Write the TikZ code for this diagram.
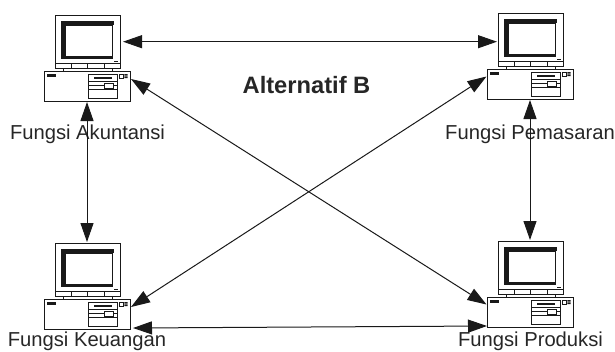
\documentclass[tikz,border=0pt]{standalone}
\usepackage{fontspec}
\setmainfont{Liberation Sans}
\usetikzlibrary{arrows.meta}
\tikzset{
  line/.style={draw=black!90,line width=0.9pt},
  thinl/.style={draw=black!90,line width=0.7pt},
  label text/.style={font=\fontsize{20.2}{22}\selectfont,text=black!85,anchor=base,inner sep=0pt},
  link/.style={draw=black!90,line width=1pt,{Triangle[length=19pt,width=13pt]}-{Triangle[length=19pt,width=13pt]}},
  computer/.pic={
    % monitor
    \node[line,rectangle,inner sep=0pt,minimum width=65pt,minimum height=53pt,anchor=north west] (-mon) at (11,0) {};
    \node[line,rectangle,inner sep=0pt,minimum width=86pt,minimum height=30pt,anchor=north west] (-case) at (0,56) {};
    \fill[black!90] (17,6) rectangle (70,43.5);
    \fill[white] (21.7,10.7) rectangle (67.7,40.7);
    \fill[white] (68.5,9.5) rectangle (71,44);
    \fill[black!90] (70,45.7) rectangle (74,47.3);
    \draw[thinl] (11,48.5) -- (76,48.5);
    \foreach \tx in {27,43,60}{\draw[thinl] (\tx,49) -- (\tx,53);}
    \draw[thinl] (19,53) -- (19,56) (68,53) -- (68,56);
    % case details
    \fill[black!90] (3.3,59) rectangle (11.7,62);
    \draw[thinl] (44.3,59) rectangle (73.3,83);
    \draw[thinl] (44.3,66) -- (73.3,66) (44.3,70) -- (73.3,70) (44.3,74.3) -- (73.3,74.3);
    \fill[black!90] (50,62) rectangle (68.3,64);
    \draw[thinl,fill=white] (60.7,68.3) rectangle (69.3,73.7);
    \draw[thinl] (75.3,59) rectangle (79.3,63);
    \fill[black!90] (80.3,59) rectangle (83.7,60.7) (80.3,61.3) rectangle (83.7,63);
    % connector ends
    \coordinate (-east) at (79,26.7);
    \coordinate (-west) at (10,28.7);
    \coordinate (-top) at (43,-1);
    \coordinate (-bottom) at (43,87);
    \coordinate (-upperR) at (87,64);
    \coordinate (-upperL) at (-0.5,63.5);
    \coordinate (-lowerR) at (89,85);
    \coordinate (-lowerL) at (0,85);
  }
}
\begin{document}
\begin{tikzpicture}[x=1pt,y=-1pt]
\useasboundingbox (0,0) rectangle (615,351);
\clip (0,0) rectangle (615,351);
\pic (tl) at (44,15) {computer};
\pic (tr) at (487,13) {computer};
\pic (bl) at (44,243) {computer};
\pic (br) at (487,241) {computer};
\node[label text] (la) at (87.5,139) {Fungsi Akuntansi};
\node[label text] (lb) at (530,139) {Fungsi Pemasaran};
\node[label text] (lc) at (87,346.4) {Fungsi Keuangan};
\node[label text] (ld) at (530.5,346.4) {Fungsi Produksi};
\node[font=\bfseries\fontsize{23.7}{26}\selectfont,text=black!85,inner sep=0pt,anchor=base] (title) at (306.5,93) {Alternatif B};
\draw[link] (tl-east) -- (tr-west);
\draw[link] (bl-lowerR) -- (br-lowerL);
\draw[link] (tl-bottom) -- (bl-top);
\draw[link] (tr-bottom) -- (br-top);
\draw[link] (tl-upperR) -- (br-upperL);
\draw[link] (bl-upperR) -- (tr-upperL);
\end{tikzpicture}
\end{document}
